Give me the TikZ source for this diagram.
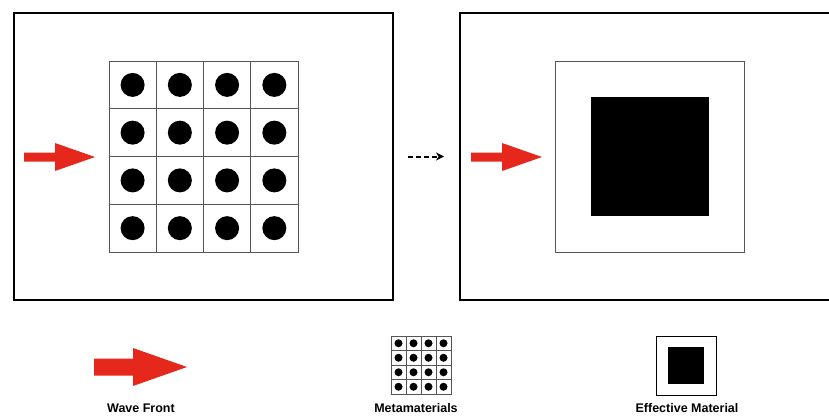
\documentclass[tikz,border=0pt]{standalone}
\usepackage{fontspec}
\setsansfont{Liberation Sans}
\usetikzlibrary{arrows.meta}

\definecolor{wavered}{HTML}{E5281B}
\definecolor{cellgray}{HTML}{555555}

\tikzset{
  frame/.style={line width=1.8pt},
  cellbox/.style={draw=cellgray,line width=0.8pt},
  dot/.style={fill=black},
  wavearrow/.style={fill=wavered},
  legendlabel/.style={font=\sffamily\bfseries\fontsize{12.5}{14}\selectfont,inner sep=0pt}
}

\begin{document}
\begin{tikzpicture}[x=1pt,y=-1pt]
\useasboundingbox (0,0) rectangle (829,415);

% left panel: metamaterial lattice
\draw[frame] (14,13) rectangle (393,300);
\foreach \i in {0,...,3}
  \foreach \j in {0,...,3}{
    \draw[cellbox] ({109+47.25*\i},{61+47.75*\j}) rectangle ++(47.25,47.75);
    \fill[dot] ({109+47.25*\i+23.6},{61+47.75*\j+23.9}) circle (12);
  }
\fill[wavearrow] (24,152.5) -- (55,152.5) -- (55,143) -- (95,157) -- (55,171) -- (55,161.5) -- (24,161.5) -- cycle;

% homogenisation step
\coordinate (stepA) at (408,156.5);
\coordinate (stepB) at (444,156.5);
\draw[line width=2pt,dash pattern=on 4.5pt off 3.5pt,-{Stealth[length=8pt,width=8pt]}] (stepA) -- (stepB);

% right panel: effective material
\draw[frame] (460,13) rectangle (840,300);
\draw[cellbox,line width=1pt] (555,61) rectangle (744,252);
\fill[black] (591,97) rectangle (709,216);
\fill[wavearrow] (471,152.5) -- (502,152.5) -- (502,143) -- (542,157) -- (502,171) -- (502,161.5) -- (471,161.5) -- cycle;

% legend
\fill[wavearrow] (94,358.5) -- (133,358.5) -- (133,348) -- (187,367) -- (133,386) -- (133,375.5) -- (94,375.5) -- cycle;
\node[legendlabel] (lwave) at (141,408) {Wave Front};

\foreach \i in {0,...,3}
  \foreach \j in {0,...,3}{
    \draw[cellbox,line width=0.6pt] ({391+15*\i},{336+14.5*\j}) rectangle ++(15,14.5);
    \fill[dot] ({391+15*\i+7.5},{336+14.5*\j+7.25}) circle (4);
  }
\node[legendlabel] (lmeta) at (416,408) {Metamaterials};

\draw[black,line width=0.8pt] (656,336) rectangle (716,395);
\fill[black] (668,347) rectangle (704,384);
\node[legendlabel] (leff) at (687,408) {Effective Material};
\end{tikzpicture}
\end{document}
